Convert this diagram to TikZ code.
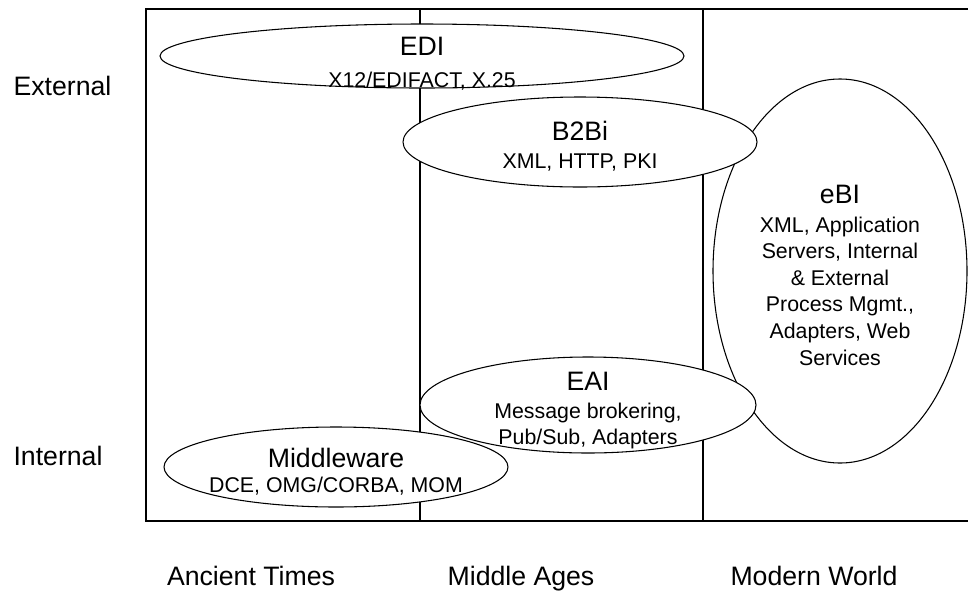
\documentclass[tikz,border=0pt]{standalone}
\usepackage{fontspec}
\setmainfont{Liberation Sans}
\usetikzlibrary{shapes.geometric}

\begin{document}
\begin{tikzpicture}[x=0.75pt,y=-0.75pt,line width=0.8pt]
	\tikzset{bubble/.style={draw,ellipse,fill=white,inner sep=0pt},
	         title/.style={anchor=base,inner sep=0pt,font=\fontsize{20}{24}\selectfont},
	         detail/.style={anchor=base,inner sep=0pt,align=center,font=\fontsize{16}{20}\selectfont},
	         axis/.style={inner sep=0pt,font=\fontsize{20}{24}\selectfont}}

	\useasboundingbox (0,0) rectangle (968,590);
	\draw[line width=1.2pt] (968,9) -- (146,9) -- (146,521) -- (968,521);
	\coordinate (c1top) at (420,9);
	\coordinate (c1bot) at (420,521);
	\coordinate (c2top) at (703,9);
	\coordinate (c2bot) at (703,521);
	\draw (c1top) -- (c1bot);
	\draw (c2top) -- (c2bot);

	\node[bubble,minimum width=393pt,minimum height=48pt] (edi) at (422,56) {};
	\node[title] (editxt) at (422,55) {EDI};
	\node[detail] (edisub) at (422,87) {X12/EDIFACT, X.25};

	\node[bubble,minimum width=190.5pt,minimum height=288pt] (ebi) at (840,271) {};
	\node[title] (ebitxt) at (840,203) {eBI};
	\node[detail,anchor=north] (ebisub) at (840,216) {XML, Application\\Servers, Internal\\\& External\\Process Mgmt.,\\Adapters, Web\\Services};

	\node[bubble,minimum width=265.5pt,minimum height=67.5pt] (b2bi) at (580,142) {};
	\node[title] (b2bitxt) at (580,140) {B2Bi};
	\node[detail] (b2bisub) at (580,168) {XML, HTTP, PKI};

	\node[bubble,minimum width=252pt,minimum height=72pt] (eai) at (588,405) {};
	\node[title] (eaitxt) at (588,390) {EAI};
	\node[detail,anchor=north] (eaisub) at (588,402) {Message brokering,\\Pub/Sub, Adapters};

	\node[bubble,minimum width=258pt,minimum height=60pt] (mw) at (336,467) {};
	\node[title] (mwtxt) at (336,467) {Middleware};
	\node[detail] (mwsub) at (336,492) {DCE, OMG/CORBA, MOM};

	\node[axis,anchor=base west] (ext) at (13,95) {External};
	\node[axis,anchor=base west] (int) at (13,465) {Internal};
	\node[axis,anchor=base] (ancient) at (251,585) {Ancient Times};
	\node[axis,anchor=base] (middle) at (521,585) {Middle Ages};
	\node[axis,anchor=base] (modern) at (814,585) {Modern World};
\end{tikzpicture}
\end{document}
